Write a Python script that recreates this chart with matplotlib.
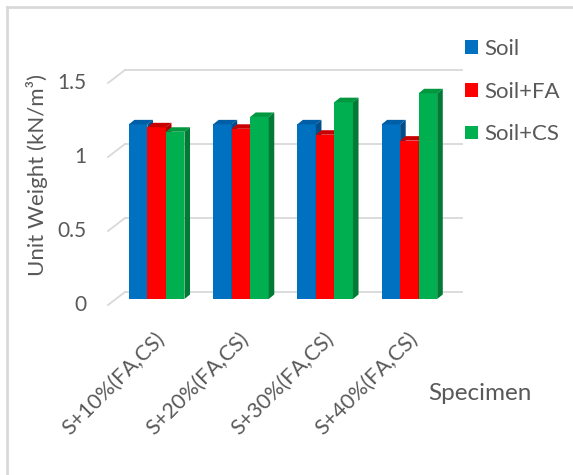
import matplotlib
matplotlib.use("Agg")
import matplotlib.pyplot as plt
from matplotlib.patches import Polygon, Patch
from matplotlib.lines import Line2D
import numpy as np

plt.rcParams['font.family'] = ['Lato', 'DejaVu Sans']

# data
specimens = ['S+10%(FA,CS)', 'S+20%(FA,CS)', 'S+30%(FA,CS)', 'S+40%(FA,CS)']
soil = [1.18, 1.18, 1.18, 1.18]
soil_fa = [1.16, 1.15, 1.11, 1.07]
soil_cs = [1.13, 1.23, 1.33, 1.39]
series_names = ['Soil', 'Soil+FA', 'Soil+CS']
y_ticks = [0, 0.5, 1, 1.5]
y_ticklabels = ['0', '0.5', '1', '1.5']

front_cols = ['#0070C0', '#FF0000', '#00B050']
top_cols = ['#005EA6', '#C80000', '#00973F']
side_cols = ['#004F8C', '#B00000', '#007A35']
txt_col = '#595959'
grid_col = '#D9D9D9'

W, H = 573, 475
fig = plt.figure(figsize=(W / 100, H / 100), dpi=100)
ymax = 1.6
ppu_x = 337 / 4      # pixels per category
ppu_y = 148          # pixels per unit
ax = fig.add_axes([114.5 / W, (H - 299) / H, 337 / W, ppu_y * ymax / H])
ax.set_xlim(-0.5, 3.5)
ax.set_ylim(0, ymax)
ax.axis('off')


def dx(p):
    return p / ppu_x


def dy(p):
    return p / ppu_y


# back wall gridlines + slanted side edges
for v in y_ticks:
    xb = -0.5 + dx(10.5)
    ax.plot([xb, 3.5 + dx(10.5)], [v + dy(7), v + dy(7)], color=grid_col, lw=1.3,
            zorder=0, clip_on=False)
    ax.plot([xb, xb - dx(17)], [v + dy(7), v + dy(7 - 13)], color=grid_col, lw=1.3,
            zorder=0, clip_on=False)
for v, lab in zip(y_ticks, y_ticklabels):
    ax.text(-0.5 - dx(28), v - dy(6), lab, ha='right', va='center', fontsize=15,
            color=txt_col, clip_on=False)

# 3d-ish clustered columns
x = np.arange(len(specimens))
bw = 0.22
depth_x, depth_y = dx(5.6), dy(4.5)
for j, vals in enumerate([soil, soil_fa, soil_cs]):
    bars = ax.bar(x + (j - 1) * bw, vals, width=bw, color=front_cols[j],
                  zorder=2 + 2 * j, linewidth=0)
    for r in bars:
        x0, w, h = r.get_x(), r.get_width(), r.get_height()
        top = Polygon([(x0, h), (x0 + depth_x, h + depth_y), (x0 + w + depth_x, h + depth_y),
                       (x0 + w, h)], closed=True, facecolor=top_cols[j], lw=0,
                      zorder=2.5 + 2 * j, clip_on=False)
        side = Polygon([(x0 + w, 0), (x0 + w + depth_x, depth_y),
                        (x0 + w + depth_x, h + depth_y), (x0 + w, h)], closed=True,
                       facecolor=side_cols[j], lw=0, zorder=2.5 + 2 * j, clip_on=False)
        ax.add_patch(top)
        ax.add_patch(side)

for i, lab in enumerate(specimens):
    ax.text(i - dx(2), -dy(30), lab, rotation=45, ha='right', va='top',
            rotation_mode='anchor', fontsize=15.5, color=txt_col, clip_on=False)

fig.text(480 / W, 1 - 393 / H, 'Specimen', ha='center', va='center', fontsize=17.5,
         color=txt_col)
fig.text(37 / W, 1 - 175 / H, 'Unit Weight (kN/m³)', rotation=90, ha='center',
         va='center', fontsize=16, color=txt_col)

handles = [Patch(facecolor=c, edgecolor='none') for c in front_cols]
fig.legend(handles, series_names, loc='upper left', bbox_to_anchor=(465 / W, 1 - 39 / H),
           frameon=False, fontsize=16, handlelength=0.58, handleheight=0.58,
           handletextpad=0.3, labelspacing=1.02, borderpad=0, borderaxespad=0,
           labelcolor=txt_col)

# chart area border (only top/left visible in the crop)
fig.add_artist(Line2D([6.5 / W, 1], [1 - 6.5 / H, 1 - 6.5 / H], transform=fig.transFigure,
                      color=grid_col, lw=2))
fig.add_artist(Line2D([6.5 / W, 6.5 / W], [0, 1 - 6.5 / H], transform=fig.transFigure,
                      color=grid_col, lw=2))

fig.savefig('out.png', dpi=100)
